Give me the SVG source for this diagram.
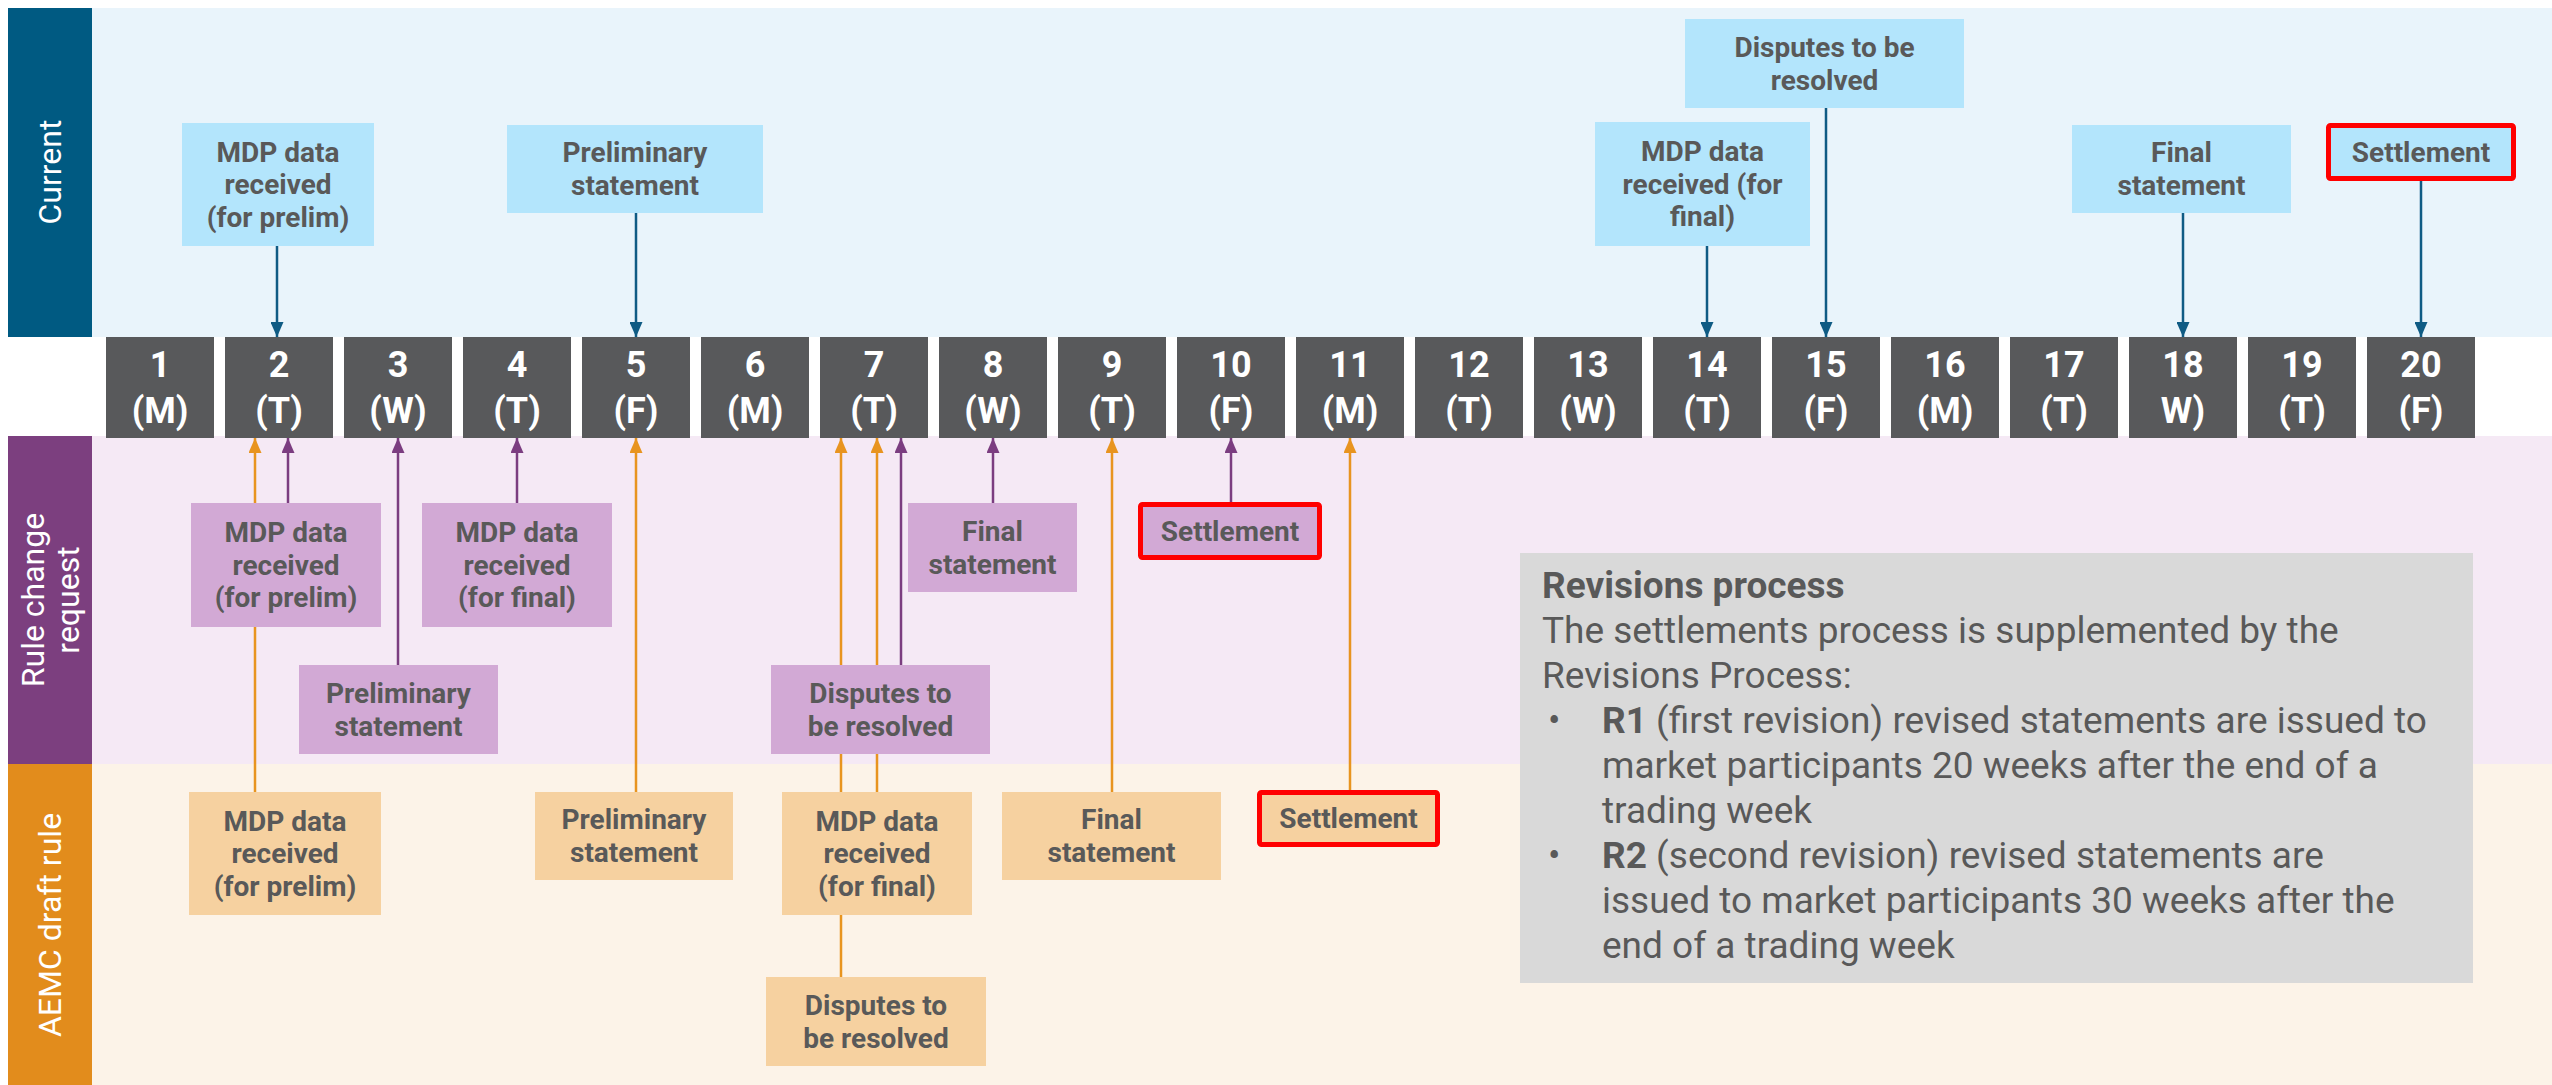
<svg xmlns="http://www.w3.org/2000/svg" width="2552" height="1085" viewBox="0 0 2552 1085">
  <style>
    text { font-family: Roboto, "Liberation Sans", sans-serif; }
    .lane-label { font-size: 32px; fill: #ffffff; text-anchor: middle; }
    .node-text { font-size: 28px; font-weight: 700; fill: #595959; text-anchor: middle; }
    .day rect { fill: #58595b; }
    .day text { font-size: 36px; font-weight: 700; fill: #ffffff; text-anchor: middle; }
    .cur { fill: #b3e5fc; }
    .rcr { fill: #d2a9d5; }
    .adr { fill: #f6d1a0; }
    .hl { stroke: #ff0000; stroke-width: 5; }
    .c-cur { stroke: #0f5b84; stroke-width: 2.5; fill: none; marker-end: url(#ah-cur); }
    .c-rcr { stroke: #7b3d80; stroke-width: 2.5; fill: none; marker-end: url(#ah-rcr); }
    .c-adr { stroke: #e8941f; stroke-width: 2.5; fill: none; marker-end: url(#ah-adr); }
    .rev-text { font-size: 37px; fill: #595959; }
  </style>
  <defs>
    <marker id="ah-cur" viewBox="0 0 15 13" refX="15" refY="6.5" markerWidth="15" markerHeight="13" markerUnits="userSpaceOnUse" orient="auto">
      <path d="M0,0 L15,6.5 L0,13 z" fill="#0f5b84"/>
    </marker>
    <marker id="ah-rcr" viewBox="0 0 15 13" refX="15" refY="6.5" markerWidth="15" markerHeight="13" markerUnits="userSpaceOnUse" orient="auto">
      <path d="M0,0 L15,6.5 L0,13 z" fill="#7b3d80"/>
    </marker>
    <marker id="ah-adr" viewBox="0 0 15 13" refX="15" refY="6.5" markerWidth="15" markerHeight="13" markerUnits="userSpaceOnUse" orient="auto">
      <path d="M0,0 L15,6.5 L0,13 z" fill="#e8941f"/>
    </marker>
  </defs>

  <rect width="2552" height="1085" fill="#ffffff"/>

  <!-- swimlanes -->
  <g id="lanes">
    <rect x="92" y="8" width="2460" height="329" fill="#e9f4fb"/>
    <rect x="8" y="8" width="84" height="329" fill="#005a82"/>
    <text class="lane-label" transform="translate(50,172) rotate(-90)" y="11">Current</text>

    <rect x="92" y="436" width="2460" height="328" fill="#f5e9f5"/>
    <rect x="8" y="436" width="84" height="328" fill="#7c3f7f"/>
    <text class="lane-label" transform="translate(50,600) rotate(-90)"><tspan x="0" y="-6">Rule change</tspan><tspan x="0" y="29">request</tspan></text>

    <rect x="92" y="764" width="2460" height="321" fill="#fcf3e8"/>
    <rect x="8" y="764" width="84" height="321" fill="#e28c1c"/>
    <text class="lane-label" transform="translate(50,925) rotate(-90)" y="11">AEMC draft rule</text>
  </g>

  <!-- connectors (drawn beneath the boxes) -->
  <g id="connectors">
    <!-- current process -->
    <line class="c-cur" x1="277" y1="246" x2="277" y2="337"/>
    <line class="c-cur" x1="636" y1="213" x2="636" y2="337"/>
    <line class="c-cur" x1="1707" y1="246" x2="1707" y2="337"/>
    <line class="c-cur" x1="1826" y1="108" x2="1826" y2="337"/>
    <line class="c-cur" x1="2183" y1="213" x2="2183" y2="337"/>
    <line class="c-cur" x1="2421" y1="181" x2="2421" y2="337"/>
    <!-- rule change request -->
    <line class="c-rcr" x1="288" y1="503" x2="288" y2="438"/>
    <line class="c-rcr" x1="398" y1="665" x2="398" y2="438"/>
    <line class="c-rcr" x1="517" y1="503" x2="517" y2="438"/>
    <line class="c-rcr" x1="901" y1="665" x2="901" y2="438"/>
    <line class="c-rcr" x1="993" y1="503" x2="993" y2="438"/>
    <line class="c-rcr" x1="1231" y1="502" x2="1231" y2="438"/>
    <!-- AEMC draft rule -->
    <line class="c-adr" x1="255" y1="792" x2="255" y2="438"/>
    <line class="c-adr" x1="636" y1="792" x2="636" y2="438"/>
    <line class="c-adr" x1="841" y1="977" x2="841" y2="438"/>
    <line class="c-adr" x1="877" y1="792" x2="877" y2="438"/>
    <line class="c-adr" x1="1112" y1="792" x2="1112" y2="438"/>
    <line class="c-adr" x1="1350" y1="790" x2="1350" y2="438"/>
  </g>

  <!-- trading days -->
  <g id="day-1" class="day"><rect x="106" y="337" width="108" height="101"/><text x="160" y="377">1</text><text x="160" y="423">(M)</text></g>
  <g id="day-2" class="day"><rect x="225" y="337" width="108" height="101"/><text x="279" y="377">2</text><text x="279" y="423">(T)</text></g>
  <g id="day-3" class="day"><rect x="344" y="337" width="108" height="101"/><text x="398" y="377">3</text><text x="398" y="423">(W)</text></g>
  <g id="day-4" class="day"><rect x="463" y="337" width="108" height="101"/><text x="517" y="377">4</text><text x="517" y="423">(T)</text></g>
  <g id="day-5" class="day"><rect x="582" y="337" width="108" height="101"/><text x="636" y="377">5</text><text x="636" y="423">(F)</text></g>
  <g id="day-6" class="day"><rect x="701" y="337" width="108" height="101"/><text x="755" y="377">6</text><text x="755" y="423">(M)</text></g>
  <g id="day-7" class="day"><rect x="820" y="337" width="108" height="101"/><text x="874" y="377">7</text><text x="874" y="423">(T)</text></g>
  <g id="day-8" class="day"><rect x="939" y="337" width="108" height="101"/><text x="993" y="377">8</text><text x="993" y="423">(W)</text></g>
  <g id="day-9" class="day"><rect x="1058" y="337" width="108" height="101"/><text x="1112" y="377">9</text><text x="1112" y="423">(T)</text></g>
  <g id="day-10" class="day"><rect x="1177" y="337" width="108" height="101"/><text x="1231" y="377">10</text><text x="1231" y="423">(F)</text></g>
  <g id="day-11" class="day"><rect x="1296" y="337" width="108" height="101"/><text x="1350" y="377">11</text><text x="1350" y="423">(M)</text></g>
  <g id="day-12" class="day"><rect x="1415" y="337" width="108" height="101"/><text x="1469" y="377">12</text><text x="1469" y="423">(T)</text></g>
  <g id="day-13" class="day"><rect x="1534" y="337" width="108" height="101"/><text x="1588" y="377">13</text><text x="1588" y="423">(W)</text></g>
  <g id="day-14" class="day"><rect x="1653" y="337" width="108" height="101"/><text x="1707" y="377">14</text><text x="1707" y="423">(T)</text></g>
  <g id="day-15" class="day"><rect x="1772" y="337" width="108" height="101"/><text x="1826" y="377">15</text><text x="1826" y="423">(F)</text></g>
  <g id="day-16" class="day"><rect x="1891" y="337" width="108" height="101"/><text x="1945" y="377">16</text><text x="1945" y="423">(M)</text></g>
  <g id="day-17" class="day"><rect x="2010" y="337" width="108" height="101"/><text x="2064" y="377">17</text><text x="2064" y="423">(T)</text></g>
  <g id="day-18" class="day"><rect x="2129" y="337" width="108" height="101"/><text x="2183" y="377">18</text><text x="2183" y="423">W)</text></g>
  <g id="day-19" class="day"><rect x="2248" y="337" width="108" height="101"/><text x="2302" y="377">19</text><text x="2302" y="423">(T)</text></g>
  <g id="day-20" class="day"><rect x="2367" y="337" width="108" height="101"/><text x="2421" y="377">20</text><text x="2421" y="423">(F)</text></g>

  <!-- current process -->
  <g id="cur-mdp-prelim"><rect class="cur" x="182" y="123" width="192" height="123"/>
    <text class="node-text"><tspan x="278" y="161.5">MDP data</tspan><tspan x="278" y="194">received</tspan><tspan x="278" y="226.5">(for prelim)</tspan></text></g>
  <g id="cur-prelim-statement"><rect class="cur" x="507" y="125" width="256" height="88"/>
    <text class="node-text"><tspan x="635" y="162">Preliminary</tspan><tspan x="635" y="195">statement</tspan></text></g>
  <g id="cur-mdp-final"><rect class="cur" x="1595" y="122" width="215" height="124"/>
    <text class="node-text"><tspan x="1702.5" y="161">MDP data</tspan><tspan x="1702.5" y="193.5">received (for</tspan><tspan x="1702.5" y="226">final)</tspan></text></g>
  <g id="cur-disputes"><rect class="cur" x="1685" y="19" width="279" height="89"/>
    <text class="node-text"><tspan x="1824.5" y="56.5">Disputes to be</tspan><tspan x="1824.5" y="89.5">resolved</tspan></text></g>
  <g id="cur-final-statement"><rect class="cur" x="2072" y="125" width="219" height="88"/>
    <text class="node-text"><tspan x="2181.5" y="162">Final</tspan><tspan x="2181.5" y="195">statement</tspan></text></g>
  <g id="cur-settlement"><rect class="cur hl" x="2328.5" y="125.5" width="185" height="53" rx="2"/>
    <text class="node-text" x="2421" y="161.5">Settlement</text></g>

  <!-- rule change request -->
  <g id="rcr-mdp-prelim"><rect class="rcr" x="191" y="503" width="190" height="124"/>
    <text class="node-text"><tspan x="286" y="542">MDP data</tspan><tspan x="286" y="574.5">received</tspan><tspan x="286" y="607">(for prelim)</tspan></text></g>
  <g id="rcr-mdp-final"><rect class="rcr" x="422" y="503" width="190" height="124"/>
    <text class="node-text"><tspan x="517" y="542">MDP data</tspan><tspan x="517" y="574.5">received</tspan><tspan x="517" y="607">(for final)</tspan></text></g>
  <g id="rcr-prelim-statement"><rect class="rcr" x="299" y="665" width="199" height="89"/>
    <text class="node-text"><tspan x="398.5" y="702.5">Preliminary</tspan><tspan x="398.5" y="735.5">statement</tspan></text></g>
  <g id="rcr-final-statement"><rect class="rcr" x="908" y="503" width="169" height="89"/>
    <text class="node-text"><tspan x="992.5" y="540.5">Final</tspan><tspan x="992.5" y="573.5">statement</tspan></text></g>
  <g id="rcr-settlement"><rect class="rcr hl" x="1140.5" y="504.5" width="179" height="53" rx="2"/>
    <text class="node-text" x="1230" y="540.5">Settlement</text></g>
  <g id="rcr-disputes"><rect class="rcr" x="771" y="665" width="219" height="89"/>
    <text class="node-text"><tspan x="880.5" y="702.5">Disputes to</tspan><tspan x="880.5" y="735.5">be resolved</tspan></text></g>

  <!-- AEMC draft rule -->
  <g id="adr-mdp-prelim"><rect class="adr" x="189" y="792" width="192" height="123"/>
    <text class="node-text"><tspan x="285" y="830.5">MDP data</tspan><tspan x="285" y="863">received</tspan><tspan x="285" y="895.5">(for prelim)</tspan></text></g>
  <g id="adr-prelim-statement"><rect class="adr" x="535" y="792" width="198" height="88"/>
    <text class="node-text"><tspan x="634" y="829">Preliminary</tspan><tspan x="634" y="862">statement</tspan></text></g>
  <g id="adr-mdp-final"><rect class="adr" x="782" y="792" width="190" height="123"/>
    <text class="node-text"><tspan x="877" y="830.5">MDP data</tspan><tspan x="877" y="863">received</tspan><tspan x="877" y="895.5">(for final)</tspan></text></g>
  <g id="adr-disputes"><rect class="adr" x="766" y="977" width="220" height="89"/>
    <text class="node-text"><tspan x="876" y="1014.5">Disputes to</tspan><tspan x="876" y="1047.5">be resolved</tspan></text></g>
  <g id="adr-final-statement"><rect class="adr" x="1002" y="792" width="219" height="88"/>
    <text class="node-text"><tspan x="1111.5" y="829">Final</tspan><tspan x="1111.5" y="862">statement</tspan></text></g>
  <g id="adr-settlement"><rect class="adr hl" x="1259.5" y="792.5" width="178" height="52" rx="2"/>
    <text class="node-text" x="1348.5" y="828">Settlement</text></g>

  <!-- revisions note -->
  <g id="revisions">
    <rect x="1520" y="553" width="953" height="430" fill="#d9d9d9"/>
    <text class="rev-text" x="1542" y="598" font-weight="700">Revisions process</text>
    <text class="rev-text" x="1542" y="643">The settlements process is supplemented by the</text>
    <text class="rev-text" x="1542" y="688">Revisions Process:</text>
    <text class="rev-text" x="1548" y="733">•</text>
    <text class="rev-text" x="1602" y="733"><tspan font-weight="700">R1</tspan> (first revision) revised statements are issued to</text>
    <text class="rev-text" x="1602" y="778">market participants 20 weeks after the end of a</text>
    <text class="rev-text" x="1602" y="823">trading week</text>
    <text class="rev-text" x="1548" y="868">•</text>
    <text class="rev-text" x="1602" y="868"><tspan font-weight="700">R2</tspan> (second revision) revised statements are</text>
    <text class="rev-text" x="1602" y="913">issued to market participants 30 weeks after the</text>
    <text class="rev-text" x="1602" y="958">end of a trading week</text>
  </g>
</svg>
